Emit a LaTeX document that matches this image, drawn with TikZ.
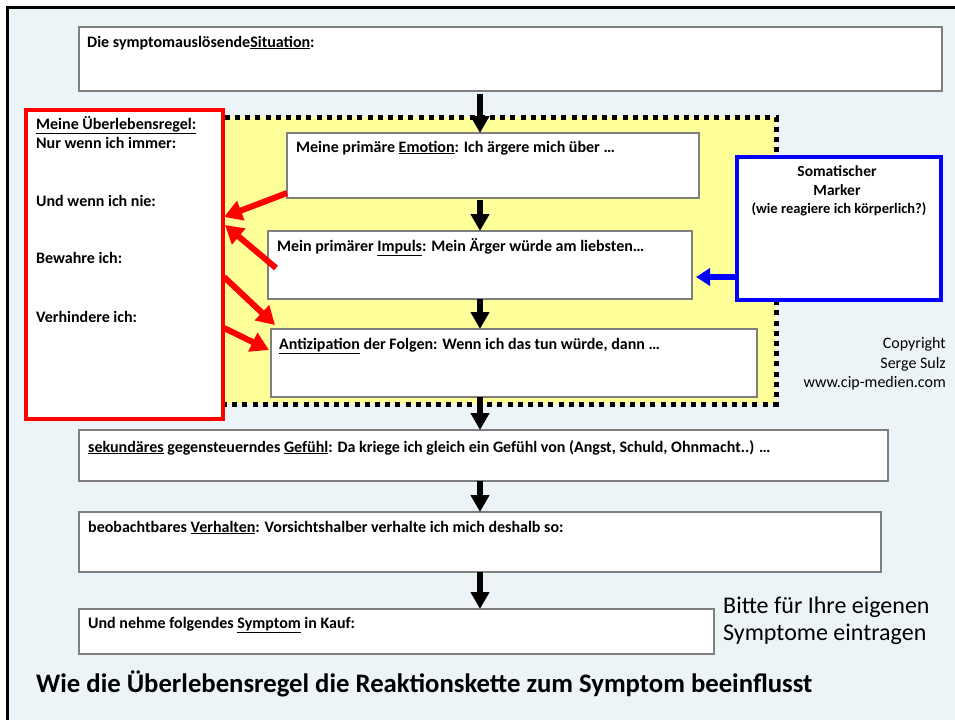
\documentclass[tikz,border=0pt]{standalone}
\usepackage{fontspec}
\setmainfont{Carlito}
\usetikzlibrary{arrows.meta,calc}
\definecolor{bgblue}{HTML}{EDF4F8}
\definecolor{boxgray}{HTML}{7F7F7F}
\definecolor{lightyellow}{HTML}{FFFF99}
\tikzset{
  box/.style={draw=boxgray, line width=1.5pt, fill=white, anchor=north west, inner sep=0pt, outer sep=0pt},
  txt/.style={anchor=base west, inner sep=0pt, font=\bfseries\fontsize{16}{19}\selectfont},
  flow/.style={line width=6pt, -{Triangle[width=18pt,length=17pt]}},
  redarr/.style={draw=red, line width=6pt, -{Triangle[width=20pt,length=18pt]}},
  bluearr/.style={draw=blue, line width=6pt, -{Triangle[width=17pt,length=14pt]}},
}
\begin{document}
\begin{tikzpicture}[x=1pt,y=-1pt]
\useasboundingbox (0,0) rectangle (955,720);
% background and frame
\fill[bgblue] (8,7) rectangle (955,720);
\draw[line width=3pt] (7.5,720) -- (7.5,7.5) -- (955,7.5);

% yellow dotted region
\node[fill=lightyellow, draw=black, line width=5pt, dash pattern=on 5pt off 5.2pt, anchor=north west, inner sep=0pt, outer sep=0pt, minimum width=554pt, minimum height=287pt] (yel) at (222,117) {};

% boxes
\node[box, minimum width=863pt, minimum height=64pt] (sit) at (79,27) {};
\node[box, draw=red, line width=4pt, minimum width=197pt, minimum height=309pt] (rule) at (26,110) {};
\node[box, minimum width=412pt, minimum height=65pt] (emo) at (287,133) {};
\node[box, minimum width=424pt, minimum height=68pt] (imp) at (268,231) {};
\node[box, minimum width=486pt, minimum height=68pt] (ant) at (271,329) {};
\node[box, draw=blue, line width=4pt, minimum width=204pt, minimum height=143pt] (soma) at (737,157) {};
\node[box, minimum width=809pt, minimum height=51pt] (sek) at (79,430) {};
\node[box, minimum width=802pt, minimum height=60pt] (ver) at (79,512) {};
\node[box, minimum width=635pt, minimum height=45pt] (sym) at (79,609) {};

% texts
\node[txt] (tsit) at (87,47) {Die symptomauslösende\underline{Situation}:};
\node[txt] (tr1) at (36,129) {\underline{Meine Überlebensregel:}};
\node[txt] (tr2) at (36,148) {Nur wenn ich immer:};
\node[txt] (tr3) at (36,206) {Und wenn ich nie:};
\node[txt] (tr4) at (36,263) {Bewahre ich:};
\node[txt] (tr5) at (36,322) {Verhindere ich:};
\node[txt] (temo) at (296,152) {Meine primäre \underline{Emotion}: Ich ärgere mich über …};
\node[txt] (timp) at (277,251) {Mein primärer \underline{Impuls}: Mein Ärger würde am liebsten…};
\node[txt] (tant) at (279,349) {\underline{Antizipation} der Folgen: Wenn ich das tun würde, dann …};
\node[txt] (tsek) at (88,452) {\underline{sekundäres} gegensteuerndes \underline{Gefühl}: Da kriege ich gleich ein Gefühl von (Angst, Schuld, Ohnmacht..) …};
\node[txt] (tver) at (88,532) {beobachtbares \underline{Verhalten}: Vorsichtshalber verhalte ich mich deshalb so:};
\node[txt] (tsym) at (88,628) {Und nehme folgendes \underline{Symptom} in Kauf:};
\node[txt, anchor=base, font=\bfseries\fontsize{15.5}{18}\selectfont] (ts1) at (837,176) {Somatischer};
\node[txt, anchor=base, font=\bfseries\fontsize{15.5}{18}\selectfont] (ts2) at (837,195) {Marker};
\node[txt, anchor=base, font=\bfseries\fontsize{14.5}{17}\selectfont] (ts3) at (839,213) {(wie reagiere ich körperlich?)};
\node[anchor=base east, inner sep=0pt, font=\fontsize{16}{19}\selectfont] (c1) at (946,348) {Copyright};
\node[anchor=base east, inner sep=0pt, font=\fontsize{16}{19}\selectfont] (c2) at (946,368) {Serge Sulz};
\node[anchor=base east, inner sep=0pt, font=\fontsize{16}{19}\selectfont] (c3) at (946,387) {www.cip-medien.com};
\node[anchor=base west, inner sep=0pt, font=\fontsize{24}{28}\selectfont] (b1) at (723,613) {Bitte für Ihre eigenen};
\node[anchor=base west, inner sep=0pt, font=\fontsize{24}{28}\selectfont] (b2) at (723,640) {Symptome eintragen};
\node[anchor=base west, inner sep=0pt, font=\bfseries\fontsize{26.7}{31}\selectfont] (title) at (36,692) {Wie die Überlebensregel die Reaktionskette zum Symptom beeinflusst};

% flow arrows
\coordinate (ax) at (480,0);
\draw[flow, shorten <=3pt] (sit.south -| ax) -- (emo.north -| ax);
\draw[flow, shorten <=2pt] (emo.south -| ax) -- (imp.north -| ax);
\draw[flow] (imp.south -| ax) -- (ant.north -| ax);
\draw[flow] (ant.south -| ax) -- (sek.north -| ax);
\draw[flow] (sek.south -| ax) -- (ver.north -| ax);
\draw[flow] (ver.south -| ax) -- (sym.north -| ax);

% red arrows
\draw[redarr] ($(emo.south west)+(0,-5)$) -- ($(rule.north east)+(1,107)$);
\draw[redarr] ($(imp.west)+(8,3)$) -- ($(rule.north east)+(2,115)$);
\draw[redarr] ($(rule.north east)+(1,167)$) -- ($(ant.north west)+(4,-4)$);
\draw[redarr] ($(rule.north east)+(1,218)$) -- ($(ant.north west)+(-2,21)$);

% blue arrow
\draw[bluearr] (soma.west |- 0,277) -- ($(imp.east |- 0,277)+(4,0)$);
\end{tikzpicture}
\end{document}
